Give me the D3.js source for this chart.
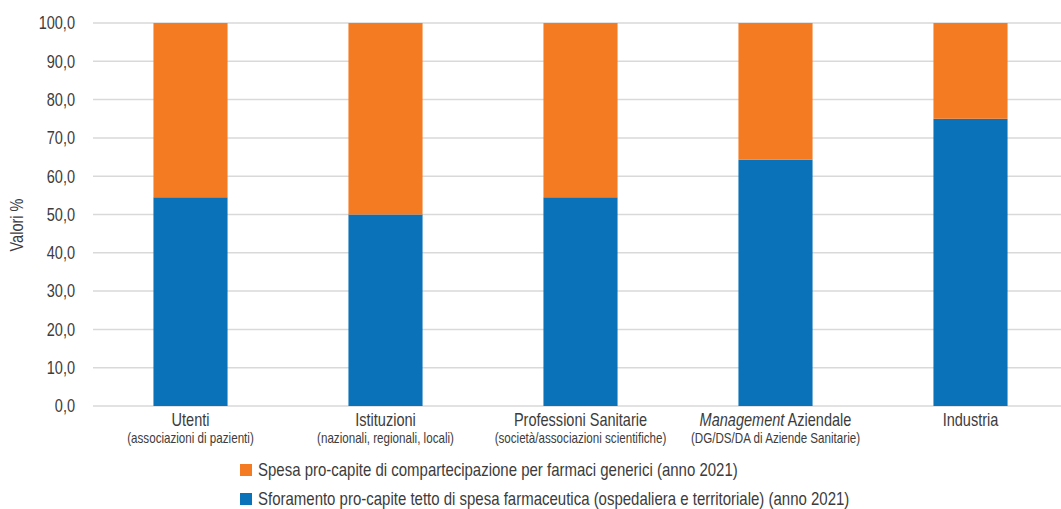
<!DOCTYPE html>
<html>
<head>
<meta charset="utf-8">
<script src="https://cdn.jsdelivr.net/npm/d3@7"></script>
<style>
  html, body { margin: 0; padding: 0; background: #fff; }
  svg { display: block; }
  text { font-family: "Liberation Sans", Arial, sans-serif; fill: #3c3c3c; }
</style>
</head>
<body>
<svg id="chart" width="1061" height="509"></svg>
<script>
// Categories: main label (italic prefix where needed) and sub-label
const categories = ["Utenti", "Istituzioni", "Professioni Sanitarie", "Management Aziendale", "Industria"];
const categoryItalic = ["", "", "", "Management", ""];
const categoryRest = ["Utenti", "Istituzioni", "Professioni Sanitarie", " Aziendale", "Industria"];
const categorySub = ["(associazioni di pazienti)", "(nazionali, regionali, locali)", "(società/associazioni scientifiche)", "(DG/DS/DA di Aziende Sanitarie)", ""];

// Series values (%), stacked to 100
const sforamento = [54.5, 50.0, 54.5, 64.3, 75.0];
const spesa = [45.5, 50.0, 45.5, 35.7, 25.0];

const seriesNames = [
  "Spesa pro-capite di compartecipazione per farmaci generici (anno 2021)",
  "Sforamento pro-capite tetto di spesa farmaceutica (ospedaliera e territoriale) (anno 2021)"
];
const yTicks = [0, 10, 20, 30, 40, 50, 60, 70, 80, 90, 100];
const yTitle = "Valori %";

const colors = { spesa: "#F47B22", sforamento: "#0A72B9" };

const svg = d3.select("#chart");
const margin = { left: 93, right: -7, top: 23, bottom: 103 };
const W = 1061, H = 509;
const NARROW = 0.83; // horizontal squeeze for a condensed look

const x = d3.scaleBand()
  .domain(categories)
  .range([margin.left, W - margin.right])
  .paddingInner(0.62)
  .paddingOuter(0.31);

const y = d3.scaleLinear().domain([0, 100]).range([H - margin.bottom, margin.top]);

// Condensed text helper
function label(g, tx, ty, anchor, size, rot, squeeze = NARROW) {
  return g.append("text")
    .attr("transform", `translate(${tx},${ty})${rot ? ` rotate(${rot})` : ""} scale(${squeeze},1)`)
    .attr("text-anchor", anchor)
    .style("font-size", size + "px");
}

// Gridlines
svg.append("g")
  .selectAll("line")
  .data(yTicks)
  .join("line")
  .attr("x1", margin.left)
  .attr("x2", W)
  .attr("y1", d => y(d))
  .attr("y2", d => y(d))
  .attr("stroke", "#d9d9d9")
  .attr("stroke-width", 1.5);

// Y axis tick labels
const fmt = d => d3.format(".1f")(d).replace(".", ",");
const yl = svg.append("g");
yTicks.forEach(t => {
  label(yl, 75, y(t), "end", 17.5).attr("dy", "0.36em").text(fmt(t));
});

// Y title
label(svg, 23, 225, "middle", 17.5, -90).text(yTitle);

// Stacked bars
const rows = categories.map((c, i) => ({ cat: c, sforamento: sforamento[i], spesa: spesa[i] }));
const stack = d3.stack().keys(["sforamento", "spesa"])(rows);

svg.append("g")
  .selectAll("g")
  .data(stack)
  .join("g")
  .attr("fill", d => colors[d.key])
  .selectAll("rect")
  .data(d => d)
  .join("rect")
  .attr("x", d => x(d.data.cat))
  .attr("width", x.bandwidth())
  .attr("y", d => y(d[1]))
  .attr("height", d => y(d[0]) - y(d[1]));

// Category labels
const xl = svg.append("g");
categories.forEach((c, i) => {
  const cx = x(c) + x.bandwidth() / 2;
  const t = label(xl, cx, 425.5, "middle", 17.5);
  if (categoryItalic[i]) {
    t.append("tspan").style("font-style", "italic").text(categoryItalic[i]);
  }
  t.append("tspan").text(categoryRest[i]);
  if (categorySub[i]) {
    label(xl, cx, 442.5, "middle", 14).text(categorySub[i]);
  }
});

// Legend
const legend = svg.append("g");
const legendItems = [
  { name: seriesNames[0], color: colors.spesa, y: 470 },
  { name: seriesNames[1], color: colors.sforamento, y: 499 }
];
legendItems.forEach(d => {
  legend.append("rect")
    .attr("x", 240)
    .attr("y", d.y - 6)
    .attr("width", 12)
    .attr("height", 12)
    .attr("fill", d.color);
  label(legend, 258, d.y, "start", 17.5, 0, 0.857).attr("dy", "0.36em").text(d.name);
});
</script>
</body>
</html>
